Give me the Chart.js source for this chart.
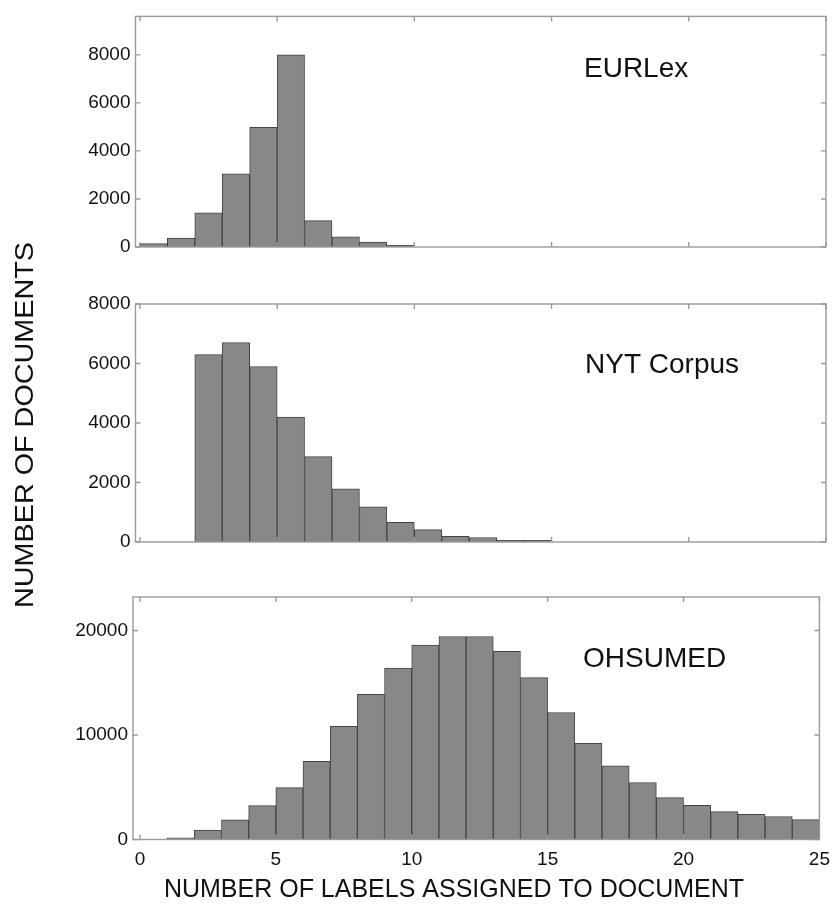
<!DOCTYPE html>
<html>
<head>
<meta charset="utf-8">
<script src="https://cdn.jsdelivr.net/npm/chart.js@4.4.1/dist/chart.umd.min.js"></script>
<style>
html, body { margin: 0; padding: 0; background: #ffffff; }
#wrap { position: relative; width: 839px; height: 905px; overflow: hidden; background: #ffffff; }
#wrap canvas { position: absolute; left: 0; top: 0; }
</style>
</head>
<body>
<div id="wrap">
  <canvas id="c1" width="839" height="905"></canvas>
  <canvas id="c2" width="839" height="905"></canvas>
  <canvas id="c3" width="839" height="905"></canvas>
</div>
<script>
// ---- data ----
const binStarts = [0,1,2,3,4,5,6,7,8,9,10,11,12,13,14,15,16,17,18,19,20,21,22,23,24];
const eurlexCounts = [140,370,1420,3050,4980,8000,1100,425,200,70,0,0,0,0,0,0,0,0,0,0,0,0,0,0,0];
const nytCounts = [0,0,6300,6700,5900,4200,2870,1790,1180,660,415,190,150,60,60,0,0,0,0,0,0,0,0,0,0];
const ohsumedCounts = [0,160,900,1890,3240,4970,7470,10830,13880,16400,18590,19420,19420,18010,15480,12150,9200,7050,5450,4000,3270,2660,2400,2200,1900];
const xTickValues = [0,5,10,15,20,25];
const xTickLabels = ['0','5','10','15','20','25'];
const eurlexYTicks = [0,2000,4000,6000,8000];
const eurlexYLabels = ['0','2000','4000','6000','8000'];
const nytYTicks = [0,2000,4000,6000,8000];
const nytYLabels = ['0','2000','4000','6000','8000'];
const ohsumedYTicks = [0,10000,20000];
const ohsumedYLabels = ['0','10000','20000'];
const panelNames = ['EURLex','NYT Corpus','OHSUMED'];
const xTitle = 'NUMBER OF LABELS ASSIGNED TO DOCUMENT';
const yTitle = 'NUMBER OF DOCUMENTS';

const FONT = '"Liberation Sans", Arial, Helvetica, sans-serif';

const framePlugin = {
  id: 'frame',
  afterDatasetsDraw(chart, args, opts) {
    const { ctx, chartArea: a, scales: { x, y } } = chart;
    ctx.save();
    ctx.strokeStyle = '#9a9a9a';
    ctx.lineWidth = 1.4;
    ctx.strokeRect(a.left, a.top, a.right - a.left, a.bottom - a.top);
    const t = 5;
    ctx.beginPath();
    x.ticks.forEach(tk => {
      const px = x.getPixelForValue(tk.value);
      ctx.moveTo(px, a.bottom); ctx.lineTo(px, a.bottom - t);
      ctx.moveTo(px, a.top); ctx.lineTo(px, a.top + t);
    });
    y.ticks.forEach(tk => {
      const py = y.getPixelForValue(tk.value);
      ctx.moveTo(a.left, py); ctx.lineTo(a.left + t, py);
      ctx.moveTo(a.right, py); ctx.lineTo(a.right - t, py);
    });
    ctx.stroke();

    ctx.fillStyle = '#111111';
    ctx.textBaseline = 'alphabetic';
    if (opts.label) {
      ctx.font = '28px ' + FONT;
      ctx.textAlign = 'left';
      ctx.fillText(opts.label, opts.labelX, opts.labelY);
    }
    if (opts.xTitle) {
      ctx.font = '25px ' + FONT;
      ctx.textAlign = 'center';
      ctx.fillText(opts.xTitle, opts.xTitleX, opts.xTitleY);
    }
    if (opts.yTitle) {
      ctx.save();
      ctx.translate(opts.yTitleX, opts.yTitleY);
      ctx.rotate(-Math.PI / 2);
      ctx.font = '26px ' + FONT;
      const w = ctx.measureText(opts.yTitle).width;
      ctx.scale(opts.yTitleLen / w, 1);
      ctx.textAlign = 'center';
      ctx.fillText(opts.yTitle, 0, 0);
      ctx.restore();
    }
    ctx.restore();
  }
};

function makePanel(id, counts, cfg) {
  const points = binStarts.map((b, i) => ({ x: b + 0.5, y: counts[i] }));
  return new Chart(document.getElementById(id), {
    type: 'bar',
    data: {
      datasets: [{
        data: points,
        backgroundColor: '#888888',
        borderColor: '#444444',
        borderWidth: 1,
        barPercentage: 1,
        categoryPercentage: 1
      }]
    },
    options: {
      responsive: false,
      animation: false,
      events: [],
      layout: { padding: { top: cfg.padTop, bottom: cfg.padBottom, left: 0, right: 13 } },
      plugins: {
        legend: { display: false },
        tooltip: { enabled: false },
        title: { display: false },
        frame: cfg.frame
      },
      scales: {
        x: {
          type: 'linear',
          min: cfg.xMin,
          max: 25,
          offset: false,
          afterBuildTicks: s => { s.ticks = xTickValues.map(v => ({ value: v })); },
          afterFit: s => { s.height = cfg.xHeight; },
          grid: { display: false, drawTicks: false },
          border: { display: false },
          ticks: {
            display: cfg.showX,
            padding: 9,
            color: '#111111',
            autoSkip: false,
            maxRotation: 0,
            font: { family: FONT, size: 19 },
            callback: (v, i) => xTickLabels[i]
          }
        },
        y: {
          type: 'linear',
          min: 0,
          max: cfg.yMax,
          afterBuildTicks: s => { s.ticks = cfg.yTicks.map(v => ({ value: v })); },
          afterFit: s => { s.width = cfg.yWidth; },
          grid: { display: false, drawTicks: false },
          border: { display: false },
          ticks: {
            padding: 5,
            color: '#111111',
            font: { family: FONT, size: 19 },
            callback: (v, i) => cfg.yLabels[i]
          }
        }
      }
    },
    plugins: [framePlugin]
  });
}

makePanel('c1', eurlexCounts, {
  padTop: 8, padBottom: 905 - 247, xMin: -0.16, xHeight: 0, showX: false,
  yMax: 9600, yTicks: eurlexYTicks, yLabels: eurlexYLabels, yWidth: 135.5,
  frame: { label: panelNames[0], labelX: 584, labelY: 77 }
});
makePanel('c2', nytCounts, {
  padTop: 304, padBottom: 905 - 542, xMin: -0.16, xHeight: 0, showX: false,
  yMax: 8000, yTicks: nytYTicks, yLabels: nytYLabels, yWidth: 135.5,
  frame: { label: panelNames[1], labelX: 585, labelY: 373,
           yTitle: yTitle, yTitleX: 33, yTitleY: 425, yTitleLen: 366 }
});
makePanel('c3', ohsumedCounts, {
  padTop: 597, padBottom: 0, xMin: -0.255, xHeight: 65.5, showX: true,
  yMax: 23200, yTicks: ohsumedYTicks, yLabels: ohsumedYLabels, yWidth: 133,
  frame: { label: panelNames[2], labelX: 583, labelY: 667,
           xTitle: xTitle, xTitleX: 454, xTitleY: 897 }
});
</script>
</body>
</html>
